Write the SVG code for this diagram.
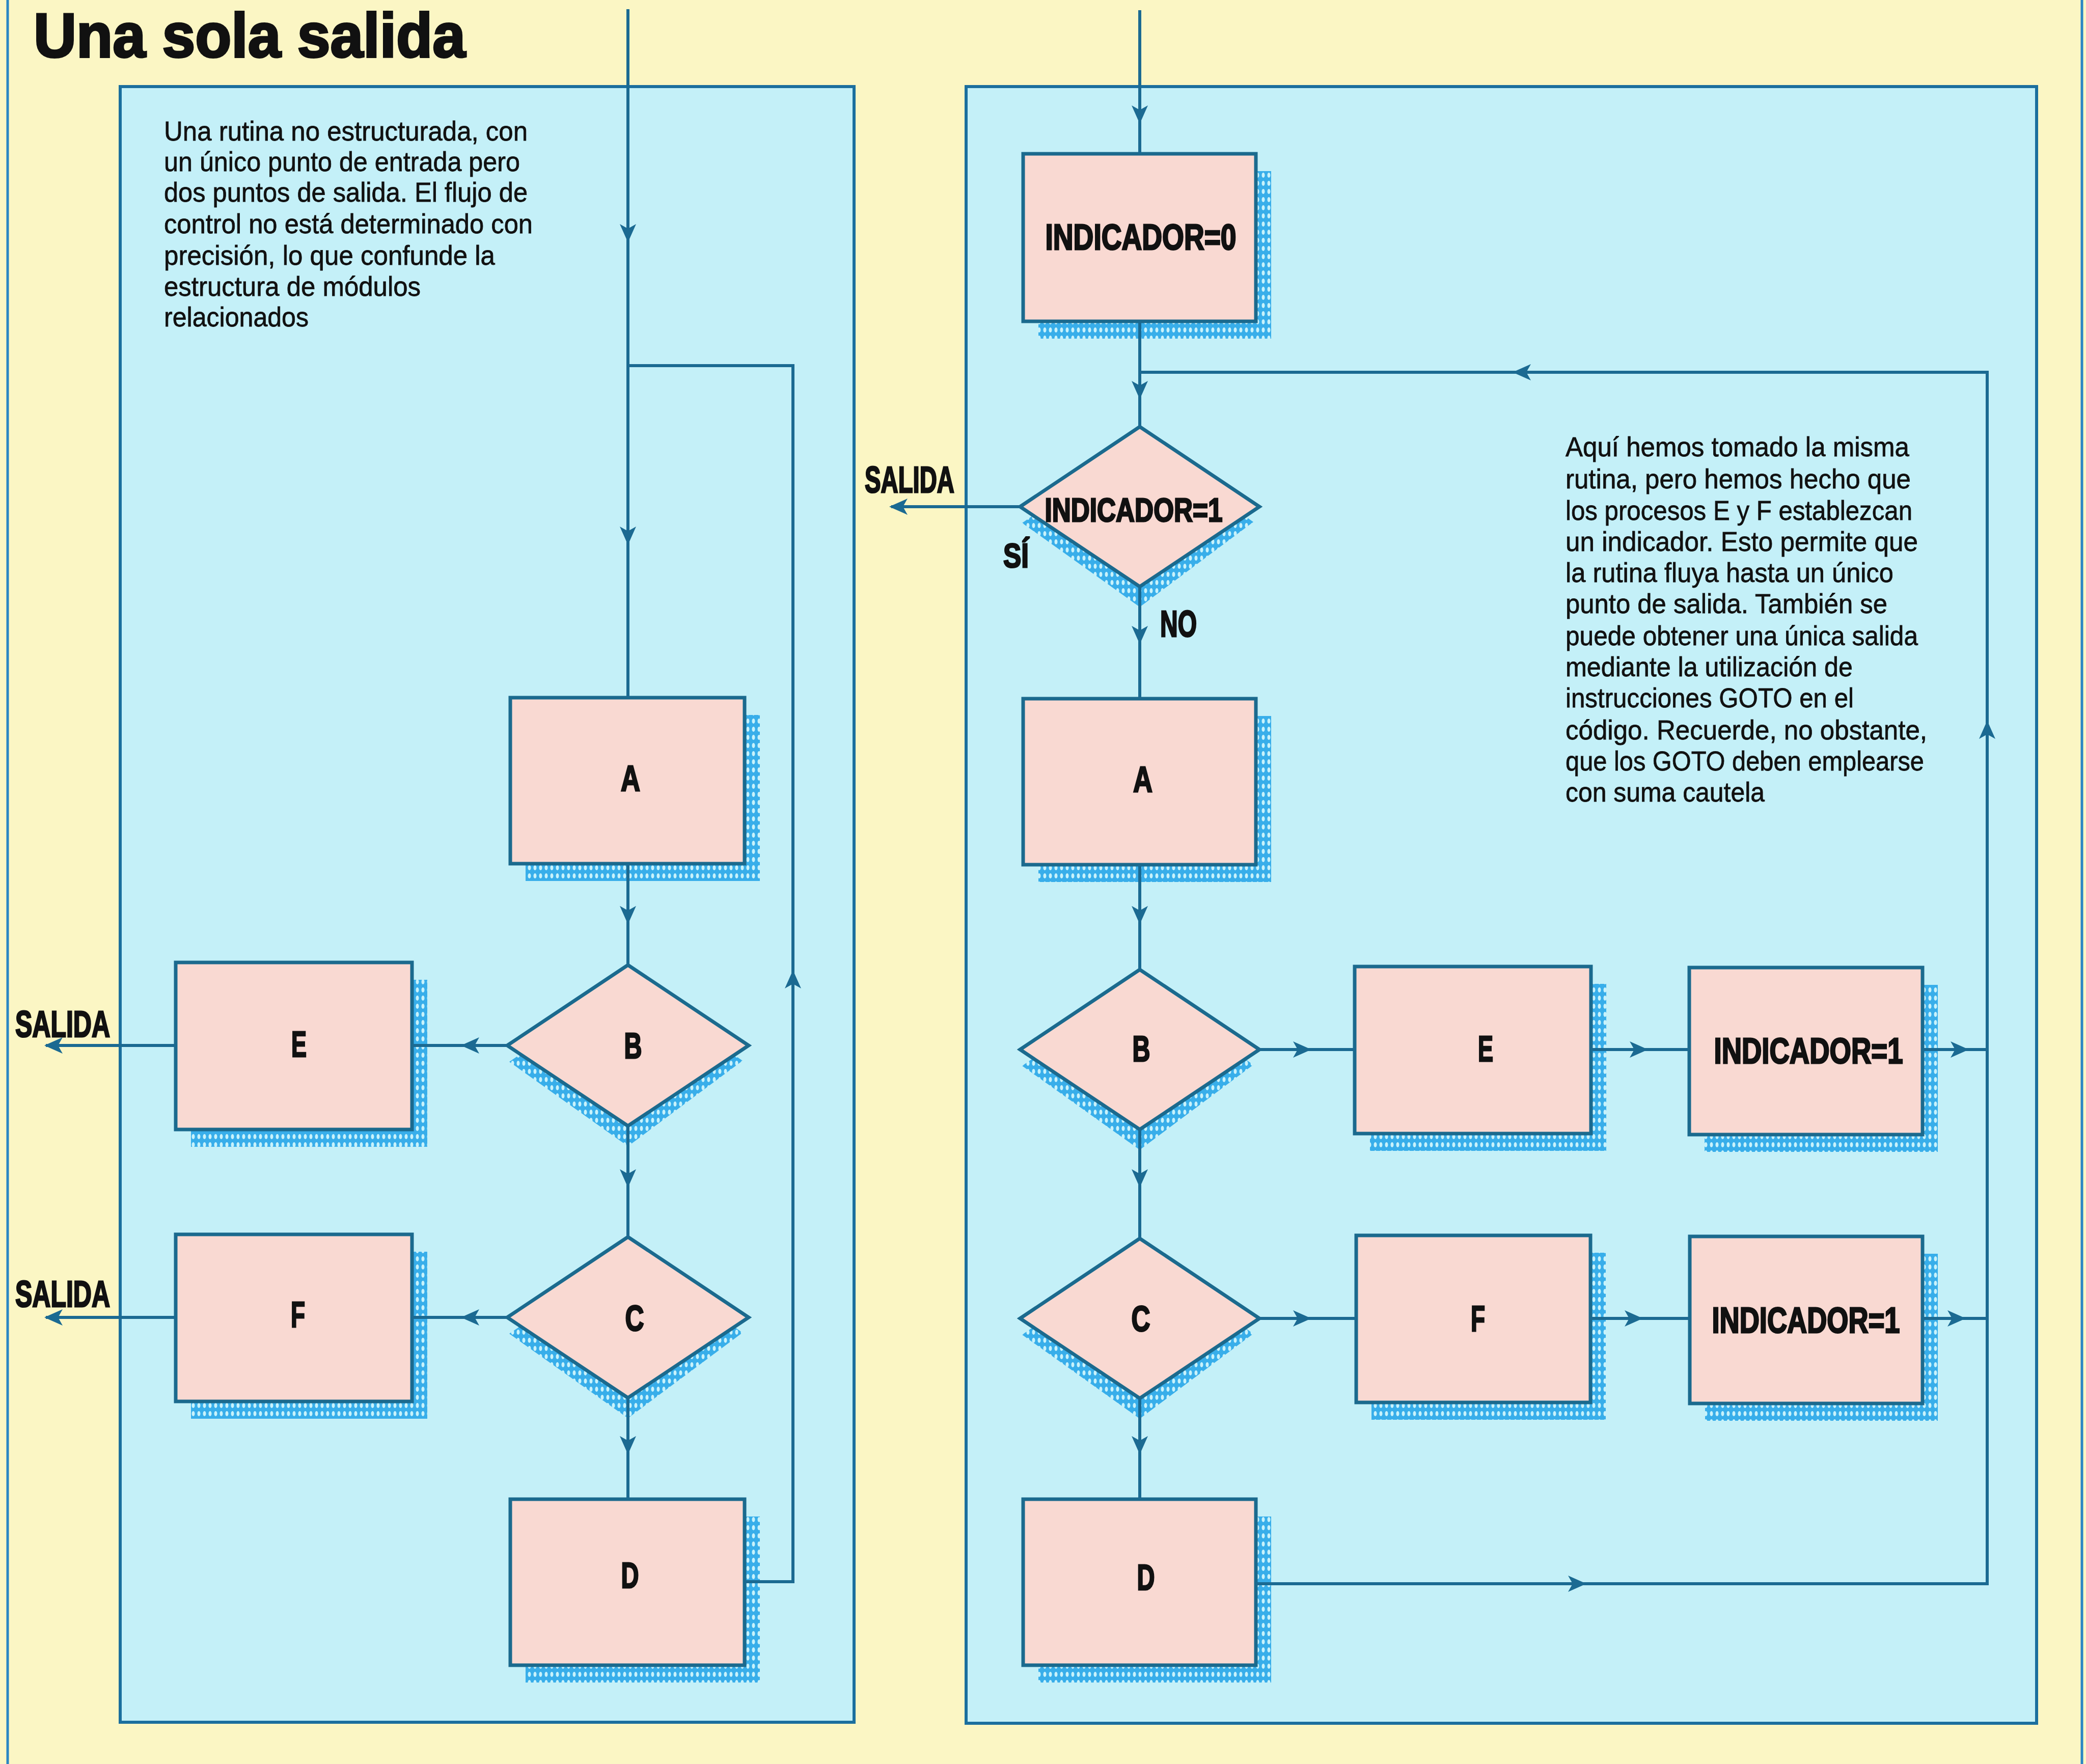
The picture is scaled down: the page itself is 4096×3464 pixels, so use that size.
<svg xmlns="http://www.w3.org/2000/svg" xmlns:xlink="http://www.w3.org/1999/xlink" width="4096" height="3464" viewBox="0 0 4096 3464">
<defs>
<style>
.bg{fill:#FBF6C4}
.edge{stroke:#2A86C4;stroke-width:5;fill:none}
.panel{fill:#C4F0F8;stroke:#1B6F9E;stroke-width:6}
.box{fill:#F9D9D2;stroke:#1B6A8E;stroke-width:7}
.sh{fill:url(#hatch)}
.con{fill:none;stroke:#1B6A92;stroke-width:6}
.body{font-family:"Liberation Sans",Arial,sans-serif;font-size:54px;fill:#111;stroke:#111;stroke-width:0.8}
.lbl{font-family:"Liberation Sans",Arial,sans-serif;font-weight:bold;font-size:70px;fill:#111;stroke:#111;stroke-width:3;text-anchor:middle}
.side{font-family:"Liberation Sans",Arial,sans-serif;font-weight:bold;font-size:72px;fill:#111;stroke:#111;stroke-width:3}
.title{font-family:"Liberation Sans",Arial,sans-serif;font-weight:bold;font-size:122px;fill:#111;stroke:#111;stroke-width:4}
</style>
<pattern id="hatch" width="11" height="16" patternUnits="userSpaceOnUse">
<rect width="11" height="16" fill="#38AEEA"/>
<ellipse cx="5.5" cy="8" rx="3" ry="5" fill="#C8F2FB"/>
</pattern>
<path id="ah" d="M0,0 L-36,-16 L-27,0 L-36,16 Z" fill="#1B6A92"/>
</defs>

<rect class="bg" x="0" y="0" width="4096" height="3464"/>
<line class="edge" x1="15" y1="0" x2="15" y2="3464"/>
<line class="edge" x1="4088" y1="0" x2="4088" y2="3464"/>

<text class="title" x="66" y="112" textLength="848" lengthAdjust="spacingAndGlyphs">Una sola salida</text>

<g id="panel-left">
<rect class="panel" x="236" y="170" width="1441" height="3212"/>
<text class="body" x="322" y="276" textLength="714" lengthAdjust="spacingAndGlyphs">Una rutina no estructurada, con</text>
<text class="body" x="322" y="336" textLength="699" lengthAdjust="spacingAndGlyphs">un único punto de entrada pero</text>
<text class="body" x="322" y="396" textLength="714" lengthAdjust="spacingAndGlyphs">dos puntos de salida. El flujo de</text>
<text class="body" x="322" y="458" textLength="724" lengthAdjust="spacingAndGlyphs">control no está determinado con</text>
<text class="body" x="322" y="520" textLength="650" lengthAdjust="spacingAndGlyphs">precisión, lo que confunde la</text>
<text class="body" x="322" y="581" textLength="504" lengthAdjust="spacingAndGlyphs">estructura de módulos</text>
<text class="body" x="322" y="641" textLength="284" lengthAdjust="spacingAndGlyphs">relacionados</text>
</g>

<g id="panel-right">
<rect class="panel" x="1897" y="170" width="2102" height="3214"/>
<text class="body" x="3074" y="896" textLength="675" lengthAdjust="spacingAndGlyphs">Aquí hemos tomado la misma</text>
<text class="body" x="3074" y="959" textLength="678" lengthAdjust="spacingAndGlyphs">rutina, pero hemos hecho que</text>
<text class="body" x="3074" y="1021" textLength="681" lengthAdjust="spacingAndGlyphs">los procesos E y F establezcan</text>
<text class="body" x="3074" y="1082" textLength="692" lengthAdjust="spacingAndGlyphs">un indicador. Esto permite que</text>
<text class="body" x="3074" y="1143" textLength="644" lengthAdjust="spacingAndGlyphs">la rutina fluya hasta un único</text>
<text class="body" x="3074" y="1204" textLength="632" lengthAdjust="spacingAndGlyphs">punto de salida. También se</text>
<text class="body" x="3074" y="1267" textLength="692" lengthAdjust="spacingAndGlyphs">puede obtener una única salida</text>
<text class="body" x="3074" y="1328" textLength="564" lengthAdjust="spacingAndGlyphs">mediante la utilización de</text>
<text class="body" x="3074" y="1389" textLength="566" lengthAdjust="spacingAndGlyphs">instrucciones GOTO en el</text>
<text class="body" x="3074" y="1452" textLength="710" lengthAdjust="spacingAndGlyphs">código. Recuerde, no obstante,</text>
<text class="body" x="3074" y="1513" textLength="704" lengthAdjust="spacingAndGlyphs">que los GOTO deben emplearse</text>
<text class="body" x="3074" y="1574" textLength="391" lengthAdjust="spacingAndGlyphs">con suma cautela</text>
</g>

<!-- left nodes -->
<g id="L-A">
<rect class="sh" x="1032" y="1404" width="460" height="326"/>
<rect class="box" x="1002" y="1370" width="460" height="326"/>
<text class="lbl" x="1238" y="1553" textLength="38" lengthAdjust="spacingAndGlyphs">A</text>
</g>
<g id="L-B">
<polygon class="sh" points="1000,2085 1233,2251 1458,2083 1233,1925"/>
<polygon class="box" points="996,2053 1233,1895 1470,2053 1233,2211"/>
<text class="lbl" x="1243" y="2078" textLength="35" lengthAdjust="spacingAndGlyphs">B</text>
</g>
<g id="L-C">
<polygon class="sh" points="1000,2619 1233,2785 1458,2617 1233,2459"/>
<polygon class="box" points="996,2587 1233,2429 1470,2587 1233,2745"/>
<text class="lbl" x="1246" y="2613" textLength="37" lengthAdjust="spacingAndGlyphs">C</text>
</g>
<g id="L-D">
<rect class="sh" x="1032" y="2978" width="460" height="326"/>
<rect class="box" x="1002" y="2944" width="460" height="326"/>
<text class="lbl" x="1237" y="3118" textLength="35" lengthAdjust="spacingAndGlyphs">D</text>
</g>
<g id="L-E">
<rect class="sh" x="375" y="1924" width="464" height="328"/>
<rect class="box" x="345" y="1890" width="464" height="328"/>
<text class="lbl" x="587" y="2075" textLength="30" lengthAdjust="spacingAndGlyphs">E</text>
</g>
<g id="L-F">
<rect class="sh" x="375" y="2458" width="464" height="328"/>
<rect class="box" x="345" y="2424" width="464" height="328"/>
<text class="lbl" x="585" y="2606" textLength="28" lengthAdjust="spacingAndGlyphs">F</text>
</g>
<g id="L-salida-E"><text class="side" x="30" y="2036" textLength="186" lengthAdjust="spacingAndGlyphs">SALIDA</text></g>
<g id="L-salida-F"><text class="side" x="30" y="2566" textLength="186" lengthAdjust="spacingAndGlyphs">SALIDA</text></g>

<!-- right nodes -->
<g id="R-IND0">
<rect class="sh" x="2039" y="336" width="457" height="329"/>
<rect class="box" x="2009" y="302" width="457" height="329"/>
<text class="lbl" x="2240" y="490" textLength="375" lengthAdjust="spacingAndGlyphs">INDICADOR=0</text>
</g>
<g id="R-IND1">
<polygon class="sh" points="2007,1027 2238,1192 2461,1025 2238,868"/>
<polygon class="box" points="2003,995 2238,838 2473,995 2238,1152"/>
<text class="lbl" x="2226" y="1024" style="font-size:64px" textLength="349" lengthAdjust="spacingAndGlyphs">INDICADOR=1</text>
</g>
<g id="R-A">
<rect class="sh" x="2039" y="1406" width="457" height="326"/>
<rect class="box" x="2009" y="1372" width="457" height="326"/>
<text class="lbl" x="2244" y="1555" textLength="38" lengthAdjust="spacingAndGlyphs">A</text>
</g>
<g id="R-B">
<polygon class="sh" points="2007,2093 2238,2258 2461,2091 2238,1934"/>
<polygon class="box" points="2003,2061 2238,1904 2473,2061 2238,2218"/>
<text class="lbl" x="2241" y="2084" textLength="35" lengthAdjust="spacingAndGlyphs">B</text>
</g>
<g id="R-E">
<rect class="sh" x="2690" y="1932" width="464" height="328"/>
<rect class="box" x="2660" y="1898" width="464" height="328"/>
<text class="lbl" x="2917" y="2084" textLength="30" lengthAdjust="spacingAndGlyphs">E</text>
</g>
<g id="R-IND1b">
<rect class="sh" x="3347" y="1934" width="458" height="328"/>
<rect class="box" x="3317" y="1900" width="458" height="328"/>
<text class="lbl" x="3551" y="2088" textLength="371" lengthAdjust="spacingAndGlyphs">INDICADOR=1</text>
</g>
<g id="R-C">
<polygon class="sh" points="2007,2621 2238,2786 2461,2619 2238,2462"/>
<polygon class="box" points="2003,2589 2238,2432 2473,2589 2238,2746"/>
<text class="lbl" x="2240" y="2614" textLength="37" lengthAdjust="spacingAndGlyphs">C</text>
</g>
<g id="R-F">
<rect class="sh" x="2693" y="2460" width="460" height="328"/>
<rect class="box" x="2663" y="2426" width="460" height="328"/>
<text class="lbl" x="2902" y="2614" textLength="28" lengthAdjust="spacingAndGlyphs">F</text>
</g>
<g id="R-IND1c">
<rect class="sh" x="3348" y="2462" width="457" height="328"/>
<rect class="box" x="3318" y="2428" width="457" height="328"/>
<text class="lbl" x="3546" y="2617" textLength="369" lengthAdjust="spacingAndGlyphs">INDICADOR=1</text>
</g>
<g id="R-D">
<rect class="sh" x="2039" y="2978" width="457" height="326"/>
<rect class="box" x="2009" y="2944" width="457" height="326"/>
<text class="lbl" x="2250" y="3122" textLength="35" lengthAdjust="spacingAndGlyphs">D</text>
</g>
<g id="R-salida"><text class="side" x="1698" y="967" textLength="176" lengthAdjust="spacingAndGlyphs">SALIDA</text></g>
<g id="R-si"><text class="side" x="1970" y="1114" style="font-size:66px" textLength="50" lengthAdjust="spacingAndGlyphs">SÍ</text></g>
<g id="R-no"><text class="side" x="2278" y="1250" textLength="72" lengthAdjust="spacingAndGlyphs">NO</text></g>

<g id="connectors">
<path class="con" d="M1233,18 V1370"/>
<path class="con" d="M1233,1696 V1895"/>
<path class="con" d="M1233,2211 V2429"/>
<path class="con" d="M1233,2745 V2944"/>
<path class="con" d="M996,2053 H809"/>
<path class="con" d="M996,2587 H809"/>
<path class="con" d="M345,2053 H90"/>
<path class="con" d="M345,2587 H90"/>
<path class="con" d="M1462,3106 H1557 V718 H1233"/>
<use xlink:href="#ah" transform="translate(1233,476) rotate(90)"/>
<use xlink:href="#ah" transform="translate(1233,1070) rotate(90)"/>
<use xlink:href="#ah" transform="translate(1233,1815) rotate(90)"/>
<use xlink:href="#ah" transform="translate(1233,2332) rotate(90)"/>
<use xlink:href="#ah" transform="translate(1233,2856) rotate(90)"/>
<use xlink:href="#ah" transform="translate(905,2053) rotate(180)"/>
<use xlink:href="#ah" transform="translate(905,2587) rotate(180)"/>
<use xlink:href="#ah" transform="translate(87,2053) rotate(180)"/>
<use xlink:href="#ah" transform="translate(87,2587) rotate(180)"/>
<use xlink:href="#ah" transform="translate(1557,1905) rotate(-90)"/>

<path class="con" d="M2238,20 V302"/>
<path class="con" d="M2238,631 V838"/>
<path class="con" d="M2466,3110 H3902 V731 H2238"/>
<path class="con" d="M2003,995 H1750"/>
<path class="con" d="M2238,1152 V1372"/>
<path class="con" d="M2238,1698 V1904"/>
<path class="con" d="M2238,2218 V2432"/>
<path class="con" d="M2238,2746 V2944"/>
<path class="con" d="M2473,2061 H2660"/>
<path class="con" d="M3124,2061 H3317"/>
<path class="con" d="M3775,2061 H3902"/>
<path class="con" d="M2473,2589 H2663"/>
<path class="con" d="M3123,2589 H3318"/>
<path class="con" d="M3775,2589 H3902"/>
<use xlink:href="#ah" transform="translate(2238,243) rotate(90)"/>
<use xlink:href="#ah" transform="translate(2238,784) rotate(90)"/>
<use xlink:href="#ah" transform="translate(2970,731) rotate(180)"/>
<use xlink:href="#ah" transform="translate(1746,995) rotate(180)"/>
<use xlink:href="#ah" transform="translate(2238,1265) rotate(90)"/>
<use xlink:href="#ah" transform="translate(2238,1815) rotate(90)"/>
<use xlink:href="#ah" transform="translate(2238,2332) rotate(90)"/>
<use xlink:href="#ah" transform="translate(2238,2856) rotate(90)"/>
<use xlink:href="#ah" transform="translate(2575,2061)"/>
<use xlink:href="#ah" transform="translate(3236,2061)"/>
<use xlink:href="#ah" transform="translate(3866,2061)"/>
<use xlink:href="#ah" transform="translate(2575,2589)"/>
<use xlink:href="#ah" transform="translate(3226,2589)"/>
<use xlink:href="#ah" transform="translate(3860,2589)"/>
<use xlink:href="#ah" transform="translate(3115,3110)"/>
<use xlink:href="#ah" transform="translate(3902,1415) rotate(-90)"/>
</g>
</svg>
